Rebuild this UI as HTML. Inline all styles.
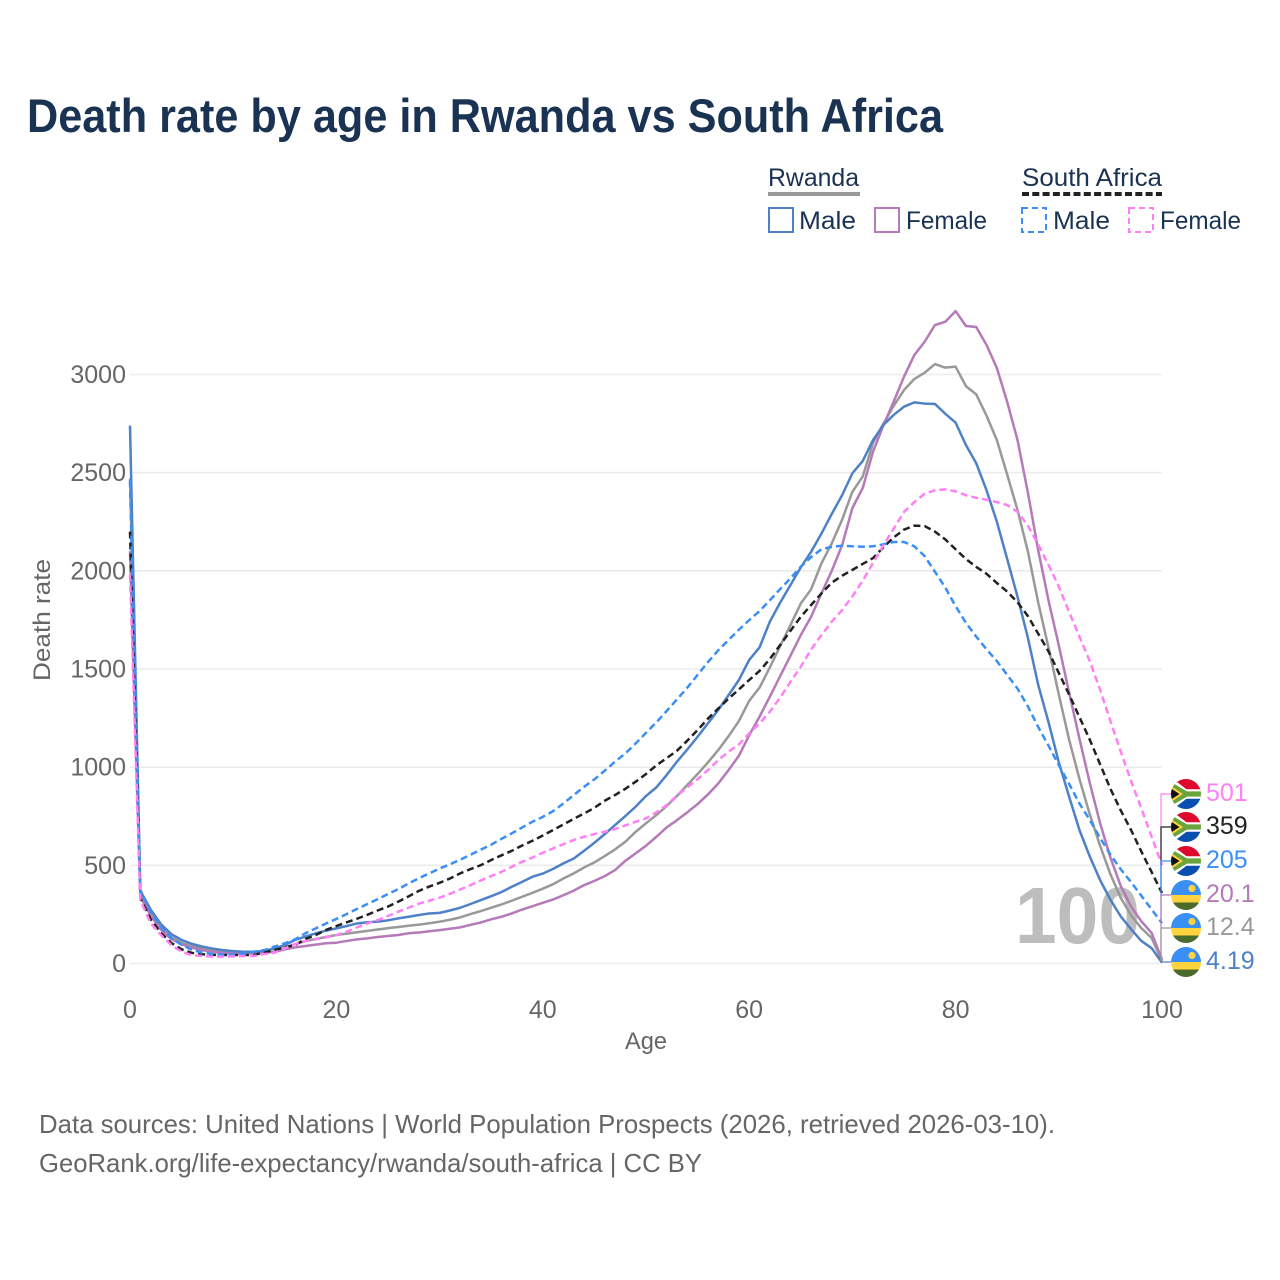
<!DOCTYPE html>
<html lang="en">
<head>
<meta charset="utf-8">
<title>Death rate by age in Rwanda vs South Africa</title>
<style>
html,body{margin:0;padding:0;background:#fff;}
svg{display:block;font-family:"Liberation Sans",sans-serif;}
</style>
</head>
<body>
<svg id="chart" xmlns="http://www.w3.org/2000/svg" width="1280" height="1280" viewBox="0 0 1280 1280">
  <rect x="0" y="0" width="1280" height="1280" fill="#fff"/>
  <defs>
    <clipPath id="flag-clip"><circle cx="0" cy="0" r="15"/></clipPath>
  </defs>
  <text x="27" y="132" font-size="47" font-weight="700" fill="#1a3352" textLength="916" lengthAdjust="spacingAndGlyphs">Death rate by age in Rwanda vs South Africa</text>

  <g>
    <text x="768" y="186" font-size="25" fill="#1a3352" textLength="91" lengthAdjust="spacingAndGlyphs">Rwanda</text>
    <line x1="768" x2="860" y1="194" y2="194" stroke="#999" stroke-width="4"/>
    <rect x="769" y="208" width="24" height="24" fill="none" stroke="#4f81c7" stroke-width="2"/>
    <text x="799" y="229" font-size="25" fill="#1a3352" textLength="57" lengthAdjust="spacingAndGlyphs">Male</text>
    <rect x="875" y="208" width="24" height="24" fill="none" stroke="#b57ab8" stroke-width="2"/>
    <text x="906" y="229" font-size="25" fill="#1a3352" textLength="81" lengthAdjust="spacingAndGlyphs">Female</text>
    <text x="1022" y="186" font-size="25" fill="#1a3352" textLength="140" lengthAdjust="spacingAndGlyphs">South Africa</text>
    <line x1="1022" x2="1162" y1="194" y2="194" stroke="#222" stroke-width="4" stroke-dasharray="7 3.3"/>
    <rect x="1022" y="208" width="24" height="24" fill="none" stroke="#3a8ff5" stroke-width="2" stroke-dasharray="6 4"/>
    <text x="1053" y="229" font-size="25" fill="#1a3352" textLength="57" lengthAdjust="spacingAndGlyphs">Male</text>
    <rect x="1129" y="208" width="24" height="24" fill="none" stroke="#ff80f5" stroke-width="2" stroke-dasharray="6 4"/>
    <text x="1160" y="229" font-size="25" fill="#1a3352" textLength="81" lengthAdjust="spacingAndGlyphs">Female</text>
  </g>

  <g id="grid"></g>
  <g id="y-ticks"></g>
  <g id="x-ticks"></g>
  <text x="1015" y="943" font-size="80" font-weight="700" fill="#bdbdbd" textLength="125" lengthAdjust="spacingAndGlyphs">100</text>
  <g id="series"></g>
  <g id="end-labels"></g>

  <text transform="translate(50,620) rotate(-90)" text-anchor="middle" font-size="24" fill="#666" textLength="122" lengthAdjust="spacingAndGlyphs">Death rate</text>
  <text x="625" y="1049" font-size="24" fill="#666" textLength="42" lengthAdjust="spacingAndGlyphs">Age</text>
  <text x="39" y="1133" font-size="26" fill="#666" textLength="1016" lengthAdjust="spacingAndGlyphs">Data sources: United Nations | World Population Prospects (2026, retrieved 2026-03-10).</text>
  <text x="39" y="1172" font-size="26" fill="#666" textLength="663" lengthAdjust="spacingAndGlyphs">GeoRank.org/life-expectancy/rwanda/south-africa | CC BY</text>
</svg>
<script>
const ages = [0,1,2,3,4,5,6,7,8,9,10,11,12,13,14,15,16,17,18,19,20,21,22,23,24,25,26,27,28,29,30,31,32,33,34,35,36,37,38,39,40,41,42,43,44,45,46,47,48,49,50,51,52,53,54,55,56,57,58,59,60,61,62,63,64,65,66,67,68,69,70,71,72,73,74,75,76,77,78,79,80,81,82,83,84,85,86,87,88,89,90,91,92,93,94,95,96,97,98,99,100];

const rwandaBoth = [2470,350,255,180,135,105,88,76,67,60,56,55,52,55,60,82,99,114,125,135,145,152,159,166,173,180,186,192,198,205,213,223,235,252,267,284,301,320,340,360,381,404,433,459,489,515,547,581,620,671,714,756,802,853,909,965,1024,1087,1158,1235,1338,1405,1508,1617,1724,1834,1906,2038,2140,2260,2403,2480,2651,2750,2840,2921,2977,3009,3053,3035,3040,2941,2899,2790,2666,2490,2310,2100,1840,1610,1370,1140,940,760,600,455,335,245,180,130,12.4];

const rwandaFemale = [2100,340,245,172,125,98,80,68,60,54,50,50,52,55,60,72,82,89,96,103,106,115,123,128,135,140,145,154,158,164,170,177,184,197,209,225,238,255,275,292,309,326,348,371,399,421,445,476,523,561,600,645,693,730,770,812,861,917,985,1058,1163,1257,1359,1464,1568,1673,1766,1885,2000,2130,2320,2422,2607,2740,2862,2989,3099,3167,3252,3269,3323,3247,3242,3150,3033,2860,2666,2400,2106,1850,1620,1380,1145,920,715,540,395,290,215,155,20.1];

const rwandaMale = [2740,370,275,200,150,120,100,86,76,68,63,60,60,64,77,94,120,137,154,167,179,191,204,210,213,220,230,238,247,255,258,270,284,303,323,343,364,391,416,442,458,482,510,535,574,615,659,705,751,799,853,897,960,1028,1090,1155,1223,1291,1367,1444,1546,1610,1741,1838,1928,2018,2097,2190,2290,2385,2497,2560,2666,2743,2794,2836,2858,2852,2850,2800,2755,2641,2548,2410,2250,2060,1868,1660,1420,1230,1025,850,680,545,425,325,240,175,115,78,4.19];

const southAfricaBoth = [2200,335,225,155,105,72,54,47,44,43,43,44,43,57,69,82,94,125,145,171,191,210,228,248,270,290,315,342,370,392,411,433,459,481,501,527,551,574,601,625,652,680,708,737,764,793,829,858,890,926,965,1009,1046,1084,1135,1189,1247,1299,1349,1396,1444,1490,1551,1622,1695,1766,1826,1885,1940,1975,2005,2035,2065,2120,2170,2210,2230,2228,2200,2160,2110,2060,2020,1985,1938,1894,1840,1770,1680,1590,1480,1370,1255,1140,1015,890,780,680,570,465,359];

const southAfricaMale = [2460,375,265,185,130,95,70,55,48,45,46,50,60,68,86,103,123,154,179,204,227,252,278,303,328,354,379,408,434,459,484,505,529,554,580,605,635,663,693,722,747,776,815,858,900,938,982,1028,1070,1121,1175,1228,1286,1345,1405,1470,1535,1595,1648,1700,1749,1795,1850,1907,1962,2021,2070,2110,2122,2128,2125,2123,2125,2135,2147,2147,2125,2075,1995,1915,1820,1735,1665,1600,1540,1470,1400,1310,1205,1110,1010,915,815,731,640,555,480,415,345,275,205];

const southAfricaFemale = [1980,323,206,145,94,60,43,38,35,35,36,38,38,48,55,77,99,114,123,133,145,162,184,204,221,242,264,284,305,320,335,355,377,399,423,445,467,493,518,540,564,586,608,629,646,659,671,685,703,722,739,770,807,855,897,939,985,1036,1079,1116,1172,1223,1282,1355,1435,1512,1600,1673,1741,1800,1870,1950,2040,2130,2215,2300,2350,2393,2410,2415,2405,2385,2372,2362,2350,2335,2300,2230,2135,2030,1920,1790,1665,1540,1395,1235,1080,930,790,645,501];

const yTickValues = [0,500,1000,1500,2000,2500,3000];
const xTickValues = [0,20,40,60,80,100];
const endValues = [501,359,205,20.1,12.4,4.19];
const endLabels = ["501","359","205","20.1","12.4","4.19"];

const NS = "http://www.w3.org/2000/svg";
const X0 = 130, X1 = 1162, Y0 = 963.5, PXY = 0.19633;
function xScale(a){ return X0 + (a - 0) * (X1 - X0) / 100; }
function yScale(v){ return Y0 - v * PXY; }
function mk(tag, attrs){
  const el = document.createElementNS(NS, tag);
  for (const k in attrs) el.setAttribute(k, attrs[k]);
  return el;
}

const gridG = document.getElementById("grid");
const yG = document.getElementById("y-ticks");
yTickValues.forEach(function(v){
  const l = mk("line", {x1:X0, x2:X1, y1:yScale(v), y2:yScale(v), stroke:"#ececec", "stroke-width":1.6});
  
  
  gridG.appendChild(l);
  const t = mk("text", {x:126, y:yScale(v)+8.5, "text-anchor":"end", "font-size":25, fill:"#666"});
  
  
  t.textContent = v;
  yG.appendChild(t);
});

const xG = document.getElementById("x-ticks");
xTickValues.forEach(function(v){
  const t = mk("text", {x:xScale(v), y:1018, "text-anchor":"middle", "font-size":25, fill:"#666"});
  
  
  t.textContent = v;
  xG.appendChild(t);
});

function drawLine(values, color, dash, name){
  const d = values.map(function(v,i){ return (i ? "L" : "M") + xScale(ages[i]).toFixed(2) + " " + yScale(v).toFixed(2); }).join("");
  const p = mk("path", {d:d, fill:"none", stroke:color, "stroke-width":2.5, "stroke-linejoin":"round"});
  if (dash) p.setAttribute("stroke-dasharray", dash);
  
  
  document.getElementById("series").appendChild(p);
}
drawLine(rwandaBoth, "#999999", null, "line-rwanda-both");
drawLine(rwandaFemale, "#b57ab8", null, "line-rwanda-female");
drawLine(rwandaMale, "#4f81c7", null, "line-rwanda-male");
drawLine(southAfricaBoth, "#222222", "7 4", "line-south-africa-both");
drawLine(southAfricaMale, "#3a8ff5", "7 4", "line-south-africa-male");
drawLine(southAfricaFemale, "#ff80f5", "7 4", "line-south-africa-female");

function flagSA(g){
  const c = mk("g", {"clip-path":"url(#flag-clip)"});
  c.appendChild(mk("rect", {x:-15,y:-15,width:30,height:15,fill:"#de0a2e"}));
  c.appendChild(mk("rect", {x:-15,y:0,width:30,height:15,fill:"#0a4fb0"}));
  c.appendChild(mk("path", {d:"M-15 -15 L0 -3.5 L15 -3.5 L15 3.5 L0 3.5 L-15 15Z", fill:"#fff", stroke:"#fff", "stroke-width":2.5}));
  c.appendChild(mk("path", {d:"M-15 -12 L1 -2.6 L15 -2.6 L15 2.6 L1 2.6 L-15 12Z", fill:"#6aa43c"}));
  c.appendChild(mk("path", {d:"M-15 -8 L-3 0 L-15 8Z", fill:"#ffd23f"}));
  c.appendChild(mk("path", {d:"M-15 -5.5 L-6.5 0 L-15 5.5Z", fill:"#111"}));
  g.appendChild(c);
}
function flagRW(g){
  const c = mk("g", {"clip-path":"url(#flag-clip)"});
  c.appendChild(mk("rect", {x:-15,y:-15,width:30,height:15,fill:"#3a8ff5"}));
  c.appendChild(mk("rect", {x:-15,y:0,width:30,height:7.5,fill:"#ffd23f"}));
  c.appendChild(mk("rect", {x:-15,y:7.5,width:30,height:7.5,fill:"#4a6b2a"}));
  c.appendChild(mk("circle", {cx:6,cy:-6.5,r:3.6,fill:"#ffd23f"}));
  g.appendChild(c);
}

const labelColors = ["#ff80f5","#222222","#3a8ff5","#b57ab8","#999999","#4f81c7"];
const labelY = [794,827,861,895,928,962];
const endG = document.getElementById("end-labels");
endValues.forEach(function(v,i){
  const sy = yScale(v);
  const c = mk("path", {d:"M1161 "+sy.toFixed(1)+"L1161 "+labelY[i]+"L1172 "+labelY[i], fill:"none", stroke:labelColors[i], "stroke-width":1.2});
  
  
  endG.appendChild(c);
});
endValues.forEach(function(v,i){
  const g = mk("g", {transform:"translate(1186,"+labelY[i]+")"});
  
  
  if (i < 3) flagSA(g); else flagRW(g);
  endG.appendChild(g);
  const t = mk("text", {x:1206, y:labelY[i]+7, "font-size":25, fill:labelColors[i]});
  
  
  t.textContent = endLabels[i];
  endG.appendChild(t);
});
</script>
</body>
</html>
